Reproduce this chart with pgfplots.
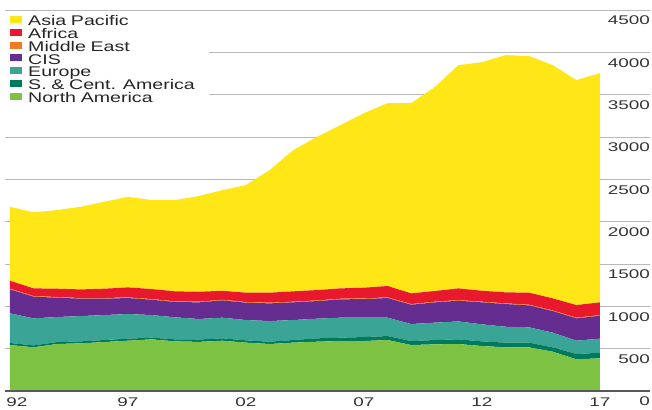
\documentclass[border=0pt]{standalone}
\usepackage{fontspec}
\setmainfont{Liberation Sans}[FakeStretch=1.4]
\newfontfamily\tickfont{Liberation Sans}[FakeStretch=1.5]
\usepackage{pgfplots}
\usepackage{pgfplotstable}
\pgfplotsset{compat=1.18}
\definecolor{APc}{HTML}{FFE617}
\definecolor{AFc}{HTML}{E8192C}
\definecolor{MEc}{HTML}{F37A21}
\definecolor{CISc}{HTML}{662D91}
\definecolor{EUc}{HTML}{3AA597}
\definecolor{SCc}{HTML}{007A5D}
\definecolor{NAc}{HTML}{7DC242}
\pgfplotstableread{
year NA SC EU CIS ME AF AP
1992 543 24 350 283 8 94 874
1993 516 23 319 256 8 90 898
1994 555 23 296 228 8 98 929
1995 563 23 299 205 8 102 976
1996 578 24 295 193 8 110 1027
1997 594 24 291 189 8 118 1070
1998 610 20 267 181 8 118 1051
1999 586 24 260 181 8 118 1078
2000 580 28 242 197 8 117 1130
2001 594 28 244 204 8 106 1189
2002 571 27 240 205 8 110 1271
2003 555 27 244 209 8 118 1448
2004 571 31 236 209 8 122 1668
2005 582 40 232 208 8 122 1808
2006 590 40 236 216 8 122 1928
2007 590 47 229 220 8 126 2062
2008 602 47 217 232 8 134 2160
2009 543 47 201 228 8 126 2247
2010 551 51 205 240 8 126 2409
2011 555 55 212 244 8 138 2637
2012 531 55 201 260 8 129 2700
2013 515 56 188 268 8 130 2802
2014 515 56 181 259 8 142 2794
2015 464 51 174 255 8 142 2755
2016 374 63 157 264 8 149 2657
2017 386 66 166 271 8 150 2707
}\data
\begin{document}
\begin{tikzpicture}
\begin{axis}[
  scale only axis,
  width=645pt, height=381pt,
  xmin=1991.79, xmax=2019.12,
  ymin=0, ymax=4500,
  stack plots=y,
  axis line style={draw=none},
  major tick length=0pt,
  ytick={0,500,...,4500},
  ymajorgrids,
  grid style={black!28, line width=0.8pt},
  yticklabel pos=right,
  yticklabel style={anchor=north east, inner sep=0pt, xshift=0pt, yshift=-6pt, font=\tickfont\fontsize{12.6}{13}\selectfont, text=black!80},
  xtick={1992,1997,2002,2007,2012,2017},
  xticklabels={\hspace{14pt}92,97,02,07,12,17},
  xticklabel style={anchor=north, inner sep=0pt, yshift=-7pt, font=\tickfont\fontsize{12.6}{13}\selectfont, text=black!80},
  /pgf/number format/assume math mode=true,
  scaled y ticks=false,
  yticklabel={\pgfmathprintnumber[fixed,1000 sep={}]{\tick}},
  reverse legend,
  legend cell align=left,
  legend image code/.code={\fill[#1] (0pt,-1pt) rectangle (12pt,6pt);},
  legend style={draw=none, fill=white, anchor=north west, at={(rel axis cs:0,1)}, yshift=-2.5pt,
    inner xsep=5pt, inner ysep=3pt, row sep=0pt, column sep=6pt,
    font=\fontsize{14}{14}\selectfont, text=black!85,
    nodes={inner sep=0pt, text height=10pt, text depth=2.8pt, text width=176pt, align=left}},
]
\addplot[fill=NAc, draw=none] table[x=year,y=NA]{\data} \closedcycle;
\addlegendentry{North America}
\addplot[fill=SCc, draw=none] table[x=year,y=SC]{\data} \closedcycle;
\addlegendentry{S. \& Cent. America}
\addplot[fill=EUc, draw=none] table[x=year,y=EU]{\data} \closedcycle;
\addlegendentry{Europe}
\addplot[fill=CISc, draw=none] table[x=year,y=CIS]{\data} \closedcycle;
\addlegendentry{CIS}
\addplot[fill=MEc, draw=none] table[x=year,y=ME]{\data} \closedcycle;
\addlegendentry{Middle East}
\addplot[fill=AFc, draw=none] table[x=year,y=AF]{\data} \closedcycle;
\addlegendentry{Africa}
\addplot[fill=APc, draw=none] table[x=year,y=AP]{\data} \closedcycle;
\addlegendentry{Asia Pacific}
\end{axis}
\draw[black!65, line width=1.3pt] (current axis.south west) -- (current axis.south east);
\pgfresetboundingbox
\path ([shift={(-5pt,-19pt)}]current axis.south west) rectangle ([shift={(2pt,10pt)}]current axis.north east);
\end{tikzpicture}
\end{document}
